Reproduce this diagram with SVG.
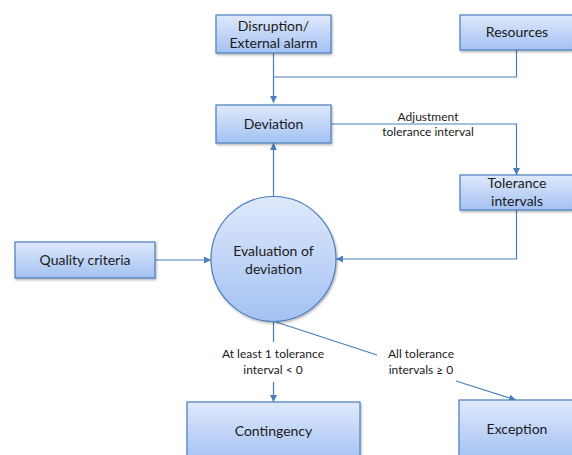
<svg xmlns="http://www.w3.org/2000/svg" width="572" height="455" viewBox="0 0 572 455">
<defs>
<linearGradient id="g" x1="0" y1="0" x2="0" y2="1">
<stop offset="0" stop-color="#dfe9fc"/>
<stop offset="1" stop-color="#a3c1f2"/>
</linearGradient>
<filter id="sh" x="-10%" y="-10%" width="130%" height="130%">
<feDropShadow dx="1" dy="1.5" stdDeviation="1" flood-color="#000" flood-opacity="0.3"/>
</filter>
<marker id="ar" viewBox="0 0 10 10" refX="10" refY="5" markerWidth="7" markerHeight="7" markerUnits="userSpaceOnUse" orient="auto">
<path d="M0,0 L10,5 L0,10 z" fill="#4a7ebb"/>
</marker>
<style>
.n{fill:url(#g);stroke:#4a7ebb;stroke-width:1.2;filter:url(#sh)}
.t{font-family:Lato,"Liberation Sans",sans-serif;font-size:14px;fill:#1a1a1a;text-anchor:middle}
.l{font-family:Lato,"Liberation Sans",sans-serif;font-size:12px;fill:#1a1a1a;text-anchor:middle}
.c{fill:none;stroke:#4a7ebb;stroke-width:1.2}
</style>
</defs>
<g id="connectors">
<path class="c" d="M273.5,53 V103" marker-end="url(#ar)"/>
<path class="c" d="M516.5,50 V77 H273.5"/>
<path class="c" d="M331,124 H516.5 V175" marker-end="url(#ar)"/>
<path class="c" d="M273.5,197 V143" marker-end="url(#ar)"/>
<path class="c" d="M155,260 H211" marker-end="url(#ar)"/>
<path class="c" d="M516.5,210 V259 H336" marker-end="url(#ar)"/>
<path class="c" d="M273.5,321 V342"/>
<path class="c" d="M273.5,382 V402" marker-end="url(#ar)"/>
<path class="c" d="M276,322 L377,355"/>
<path class="c" d="M456,381 L516,400" marker-end="url(#ar)"/>
<text class="l" x="428" y="121">Adjustment</text>
<text class="l" x="428" y="136">tolerance interval</text>
<text class="l" x="273" y="358">At least 1 tolerance</text>
<text class="l" x="273" y="374">interval &lt; 0</text>
<text class="l" x="421" y="358">All tolerance</text>
<text class="l" x="421" y="374">intervals ≥ 0</text>
</g>
<g id="disruption">
<rect class="n" x="216" y="15" width="115" height="38"/>
<text class="t" x="273.5" y="31">Disruption/</text>
<text class="t" x="273.5" y="48">External alarm</text>
</g>
<g id="resources">
<rect class="n" x="460" y="15" width="120" height="35"/>
<text class="t" x="517" y="37">Resources</text>
</g>
<g id="deviation">
<rect class="n" x="216" y="105" width="115" height="38"/>
<text class="t" x="273.5" y="129">Deviation</text>
</g>
<g id="tolerance">
<rect class="n" x="460" y="175" width="120" height="35"/>
<text class="t" x="517" y="188">Tolerance</text>
<text class="t" x="517" y="206">intervals</text>
</g>
<g id="quality">
<rect class="n" x="15" y="242" width="140" height="36"/>
<text class="t" x="85" y="265">Quality criteria</text>
</g>
<g id="evaluation">
<circle class="n" cx="273.5" cy="259" r="62.5"/>
<text class="t" x="273.5" y="256">Evaluation of</text>
<text class="t" x="273.5" y="274">deviation</text>
</g>
<g id="contingency">
<rect class="n" x="187" y="402" width="173" height="60"/>
<text class="t" x="273.5" y="436">Contingency</text>
</g>
<g id="exception">
<rect class="n" x="459" y="400" width="120" height="60"/>
<text class="t" x="517" y="434">Exception</text>
</g>
</svg>
